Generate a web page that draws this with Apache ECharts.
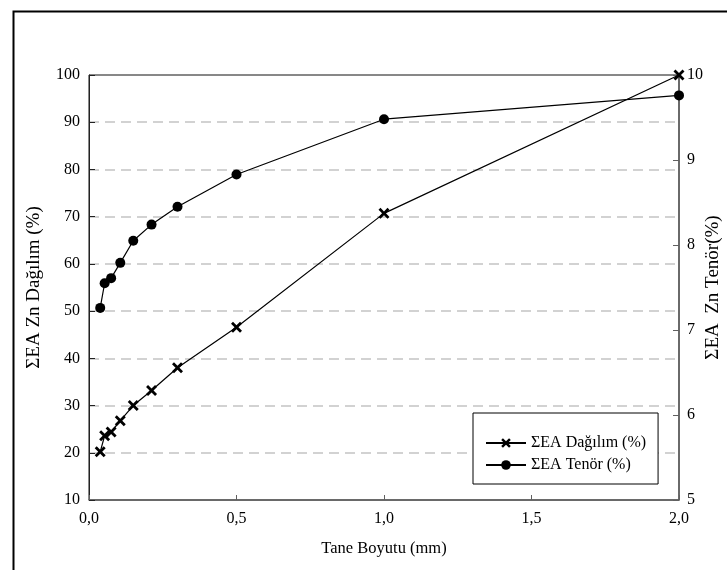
<!DOCTYPE html>
<html>
<head>
<meta charset="utf-8">
<script src="https://cdn.jsdelivr.net/npm/echarts@6/dist/echarts.min.js"></script>
<style>
  html, body { margin: 0; padding: 0; background: #fff; }
  #chart { width: 727px; height: 570px; }
</style>
</head>
<body>
<div id="chart"></div>
<script>
// Grain size fractions (mm)
const grainSize = [0.038, 0.053, 0.075, 0.106, 0.150, 0.212, 0.300, 0.500, 1.000, 2.000];
// Cumulative Zn distribution (%)
const cumDistribution = [20.2, 23.6, 24.4, 26.8, 30.0, 33.2, 38.0, 46.6, 70.7, 100];
// Cumulative Zn grade (%)
const cumGrade = [7.26, 7.55, 7.61, 7.79, 8.05, 8.24, 8.45, 8.83, 9.48, 9.76];

const seriesNames = ['ΣEA Dağılım (%)', 'ΣEA Tenör (%)'];
const xTitle = 'Tane Boyutu (mm)';
const yLeftTitle = 'ΣEA Zn Dağılım (%)';
const yRightTitle = 'ΣEA  Zn Tenör(%)';

const FONT = 'Liberation Serif';
// bold "x" marker
const crossPath = 'path://M0,1.8 L1.8,0 L5,3.2 L8.2,0 L10,1.8 L6.8,5 L10,8.2 L8.2,10 L5,6.8 L1.8,10 L0,8.2 L3.2,5 Z';

const chart = echarts.init(document.getElementById('chart'));

const pairs = (xs, ys) => xs.map((x, i) => [x, ys[i]]);

chart.setOption({
  animation: false,
  backgroundColor: '#fff',
  textStyle: { fontFamily: FONT, color: '#000' },
  grid: {
    left: 89, right: 48, top: 75, bottom: 70,
    containLabel: false,
    outerBoundsMode: 'none',
    show: true, borderColor: '#111', borderWidth: 1, backgroundColor: 'transparent'
  },
  graphic: [{
    type: 'rect', left: 11, top: 9, silent: true,
    shape: { x: 0, y: 0, width: 760, height: 620 },
    style: { fill: 'none', stroke: '#000', lineWidth: 2 }
  }],
  legend: {
    orient: 'vertical',
    left: 473, top: 413,
    width: 190,
    padding: [22, 12, 11, 12],
    itemGap: 6,
    itemWidth: 40, itemHeight: 12,
    backgroundColor: '#fff',
    borderColor: '#000', borderWidth: 1,
    textStyle: { fontFamily: FONT, fontSize: 16, color: '#000' },
    data: seriesNames
  },
  xAxis: {
    type: 'value', min: 0, max: 2, interval: 0.5,
    name: xTitle, nameLocation: 'middle', nameGap: 40,
    nameTextStyle: { fontFamily: FONT, fontSize: 16.5, color: '#000' },
    axisLine: { show: true, lineStyle: { color: '#606060', width: 1.5 } },
    axisTick: { show: true, inside: true, length: 5, lineStyle: { color: '#606060' } },
    axisLabel: {
      margin: 11, fontFamily: FONT, fontSize: 16, color: '#000',
      formatter: v => v.toFixed(1).replace('.', ',')
    },
    splitLine: { show: false }
  },
  yAxis: [{
    type: 'value', position: 'left', min: 10, max: 100, interval: 10,
    name: yLeftTitle, nameLocation: 'middle', nameGap: 45, nameRotate: 90,
    nameTextStyle: { fontFamily: FONT, fontSize: 19, color: '#000' },
    axisLine: { show: true, lineStyle: { color: '#222', width: 1 } },
    axisTick: { show: true, inside: true, length: 6, lineStyle: { color: '#222' } },
    axisLabel: { margin: 9, fontFamily: FONT, fontSize: 16, color: '#000' },
    splitLine: {
      show: true, showMinLine: false, showMaxLine: false,
      lineStyle: { color: '#c4c4c4', type: [10, 6], width: 1.5 }
    }
  }, {
    type: 'value', position: 'right', min: 5, max: 10, interval: 1,
    name: yRightTitle, nameLocation: 'middle', nameGap: 25, nameRotate: 90,
    nameMoveOverlap: false,
    nameTextStyle: { fontFamily: FONT, fontSize: 19, color: '#000' },
    axisLine: { show: true, lineStyle: { color: '#606060', width: 1.5 } },
    axisTick: { show: true, inside: true, length: 6, lineStyle: { color: '#606060' } },
    axisLabel: { margin: 8, fontFamily: FONT, fontSize: 16, color: '#000' },
    splitLine: { show: false }
  }],
  series: [{
    name: seriesNames[0], type: 'line', yAxisIndex: 0,
    data: pairs(grainSize, cumDistribution),
    symbol: crossPath, symbolSize: 11,
    lineStyle: { color: '#000', width: 1.2 },
    itemStyle: { color: '#000' },
    z: 3
  }, {
    name: seriesNames[1], type: 'line', yAxisIndex: 1,
    data: pairs(grainSize, cumGrade),
    symbol: 'circle', symbolSize: 10,
    lineStyle: { color: '#000', width: 1.2 },
    itemStyle: { color: '#000' },
    z: 3
  }]
});
</script>
</body>
</html>
